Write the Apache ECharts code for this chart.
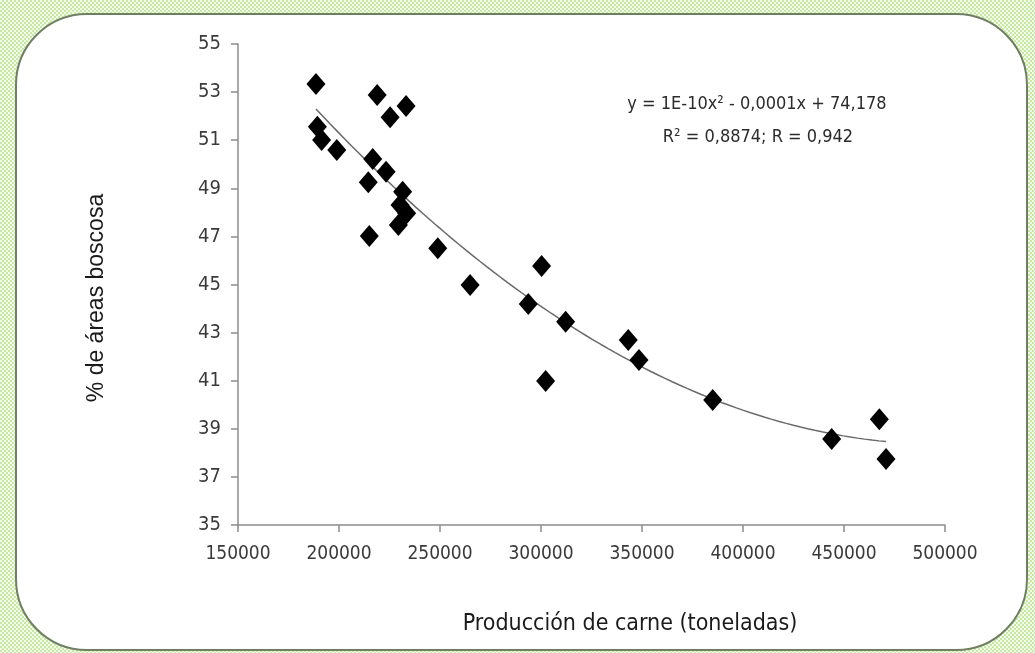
<!DOCTYPE html>
<html>
<head>
<meta charset="utf-8">
<script src="https://cdn.jsdelivr.net/npm/echarts@6/dist/echarts.min.js"></script>
<style>
  html, body { margin:0; padding:0; width:1035px; height:653px; overflow:hidden;
    background: repeating-conic-gradient(#c6eaa2 0% 25%, #f4fbec 0% 50%) 0 0 / 4px 4px; }
  #panel { position:absolute; left:15px; top:13px; width:1013px; height:638px; box-sizing:border-box;
    border:2px solid #6f7f63; border-radius:72px; background:#ffffff; }
  #chart { position:absolute; left:0; top:0; width:1035px; height:653px; }
</style>
</head>
<body>
<div id="panel"></div>
<div id="chart"></div>
<script>
// Meat production (tonnes)
const produccion = [188600, 218900, 233200, 225300, 189300, 191400, 198900, 216700, 223300, 214500,
  231500, 230200, 233500, 229400, 215000, 248900, 264900, 300300, 293700, 312200,
  343200, 348500, 302300, 385000, 443900, 467500, 470800];
// % forested area
const areaBoscosa = [53.34, 52.88, 52.42, 51.95, 51.56, 51.01, 50.59, 50.22, 49.69, 49.25,
  48.86, 48.31, 47.96, 47.47, 47.02, 46.51, 44.98, 45.77, 44.19, 43.45,
  42.69, 41.86, 40.99, 40.20, 38.58, 39.40, 37.74];
const yTicks = [35, 37, 39, 41, 43, 45, 47, 49, 51, 53, 55];
const xTicks = [150000, 200000, 250000, 300000, 350000, 400000, 450000, 500000];
const xTitle = 'Producción de carne (toneladas)';
const yTitle = '% de áreas boscosa';
const eqLine1 = 'y = 1E-10x² - 0,0001x + 74,178';
const eqLine2 = 'R² = 0,8874; R = 0,942';

// Polynomial (order 2) least-squares trendline, computed from the data
function quadFit(xs, ys) {
  const s = 1e5;
  let S = [0,0,0,0,0], T = [0,0,0];
  for (let i = 0; i < xs.length; i++) {
    const u = xs[i] / s;
    for (let k = 0; k < 5; k++) S[k] += Math.pow(u, k);
    for (let k = 0; k < 3; k++) T[k] += ys[i] * Math.pow(u, k);
  }
  const A = [[S[0],S[1],S[2],T[0]],[S[1],S[2],S[3],T[1]],[S[2],S[3],S[4],T[2]]];
  for (let i = 0; i < 3; i++) {
    for (let j = i + 1; j < 3; j++) {
      const f = A[j][i] / A[i][i];
      for (let k = i; k < 4; k++) A[j][k] -= f * A[i][k];
    }
  }
  const c = [0,0,0];
  for (let i = 2; i >= 0; i--) {
    let v = A[i][3];
    for (let k = i + 1; k < 3; k++) v -= A[i][k] * c[k];
    c[i] = v / A[i][i];
  }
  return x => { const u = x / s; return c[0] + c[1]*u + c[2]*u*u; };
}
const fit = quadFit(produccion, areaBoscosa);
const xmin = Math.min(...produccion), xmax = Math.max(...produccion);
const trend = [];
for (let i = 0; i <= 80; i++) { const x = xmin + (xmax - xmin) * i / 80; trend.push([x, fit(x)]); }

const chart = echarts.init(document.getElementById('chart'), null, { renderer: 'canvas' });
const narrow = '"Liberation Sans Narrow", "DejaVu Sans Condensed", "Liberation Sans", sans-serif';
chart.setOption({
  backgroundColor: 'transparent',
  animation: false,
  grid: { left: 238, right: 90, top: 44, bottom: 128 },
  xAxis: {
    type: 'value', min: xTicks[0], max: xTicks[xTicks.length - 1], interval: 50000,
    axisLine: { show: true, lineStyle: { color: '#8c8c8c', width: 1.5 } },
    axisTick: { show: true, length: 7, customValues: xTicks, lineStyle: { color: '#8c8c8c', width: 1.5 } },
    splitLine: { show: false },
    axisLabel: { color: '#3a3a3a', fontFamily: narrow, fontSize: 19, margin: 20, customValues: xTicks,
      formatter: v => String(v) }
  },
  yAxis: {
    type: 'value', min: yTicks[0], max: yTicks[yTicks.length - 1],
    axisLine: { show: true, lineStyle: { color: '#8c8c8c', width: 1.5 } },
    axisTick: { show: true, length: 7, customValues: yTicks, lineStyle: { color: '#8c8c8c', width: 1.5 } },
    splitLine: { show: false },
    axisLabel: { color: '#3a3a3a', fontFamily: narrow, fontSize: 20, margin: 17, customValues: yTicks,
      formatter: v => String(v) }
  },
  graphic: [
    { type: 'text', x: 630, y: 624, style: { text: xTitle, fill: '#1a1a1a', font: '23px ' + narrow, align: 'center', verticalAlign: 'middle' } },
    { type: 'text', x: 97, y: 298, rotation: Math.PI / 2,
      style: { text: yTitle, fill: '#1a1a1a', font: '23px "Liberation Sans", Arial, sans-serif', align: 'center', verticalAlign: 'middle' } },
    { type: 'text', x: 757, y: 104, style: { text: eqLine1, fill: '#2b2b2b', font: '18px ' + narrow, align: 'center', verticalAlign: 'middle' } },
    { type: 'text', x: 758, y: 137, style: { text: eqLine2, fill: '#2b2b2b', font: '18px ' + narrow, align: 'center', verticalAlign: 'middle' } }
  ],
  series: [
    { type: 'line', data: trend, showSymbol: false, symbol: 'none', smooth: false,
      lineStyle: { color: '#6a6a6a', width: 1.5 }, z: 2, silent: true },
    { type: 'scatter', data: produccion.map((x, i) => [x, areaBoscosa[i]]),
      symbol: 'diamond', symbolSize: [19, 22], itemStyle: { color: '#000000', opacity: 1 }, z: 3 }
  ]
});
</script>
</body>
</html>
